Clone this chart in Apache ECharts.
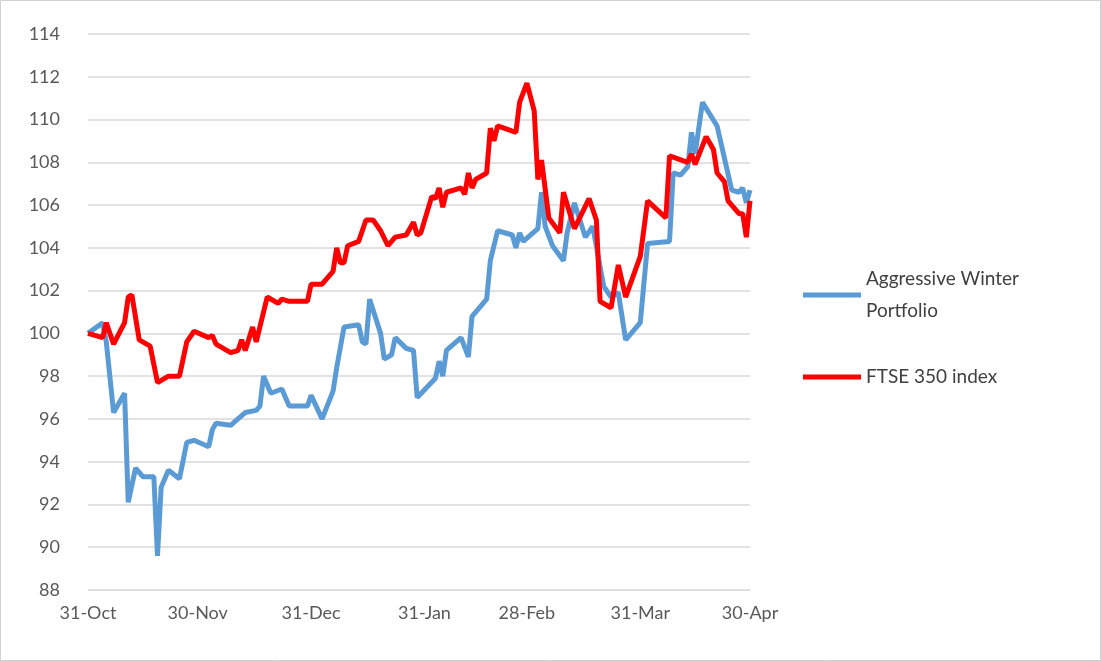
<!DOCTYPE html>
<html><head><meta charset="utf-8">
<script src="https://cdn.jsdelivr.net/npm/echarts@6/dist/echarts.min.js"></script>
<style>html,body{margin:0;padding:0;background:#fff}#c{width:1101px;height:661px}</style>
</head><body><div id="c"></div>
<script>
const tickLabels = {0:'31-Oct',30:'30-Nov',61:'31-Dec',92:'31-Jan',120:'28-Feb',151:'31-Mar',181:'30-Apr'};
const portDays = [0,4,5,7,10,11,13,15,18,19,20,22,25,27,29,33,34,35,39,41,43,46,47,48,50,53,55,60,61,64,67,68,70,74,75,76,77,80,81,83,84,87,89,90,95,96,97,98,102,104,105,109,110,112,116,117,118,119,123,124,125,127,130,131,133,136,138,141,143,145,147,151,153,159,160,162,164,165,166,168,172,176,178,179,180,181];
const portVals = [100.0,100.5,99.6,96.3,97.2,92.1,93.7,93.3,93.3,89.6,92.8,93.6,93.2,94.9,95.0,94.7,95.5,95.8,95.7,96.0,96.3,96.4,96.6,98.0,97.2,97.4,96.6,96.6,97.1,96.0,97.3,98.4,100.3,100.4,99.6,99.5,101.6,100.0,98.8,99.0,99.8,99.3,99.2,97.0,97.9,98.7,98.0,99.2,99.8,98.9,100.8,101.6,103.4,104.8,104.6,104.0,104.7,104.3,104.9,106.6,105.0,104.1,103.4,104.7,106.1,104.5,105.0,102.2,101.7,101.9,99.7,100.5,104.2,104.3,107.5,107.4,107.8,109.4,108.4,110.8,109.7,106.7,106.6,106.8,106.1,106.7];
const ftseDays = [0,4,5,7,10,11,12,14,17,19,22,25,27,29,33,34,35,39,41,42,43,45,46,49,52,53,55,60,61,63,64,67,68,69,70,71,74,76,78,80,82,84,87,89,90,91,94,95,96,97,98,102,103,104,105,106,109,110,111,112,117,118,120,122,123,124,126,129,130,133,137,139,140,143,145,147,151,153,158,159,164,165,166,169,171,172,174,175,178,179,180,181];
const ftseVals = [100.0,99.8,100.5,99.5,100.5,101.7,101.8,99.7,99.4,97.7,98.0,98.0,99.6,100.1,99.8,99.9,99.5,99.1,99.2,99.7,99.2,100.3,99.6,101.7,101.4,101.6,101.5,101.5,102.3,102.3,102.3,102.9,104.0,103.3,103.3,104.1,104.3,105.3,105.3,104.8,104.1,104.5,104.6,105.2,104.6,104.7,106.4,106.3,106.8,105.9,106.6,106.8,106.5,107.5,106.8,107.2,107.5,109.6,109.0,109.7,109.4,110.8,111.7,110.4,107.2,108.1,105.4,104.7,106.6,104.9,106.3,105.3,101.5,101.2,103.2,101.7,103.6,106.2,105.4,108.3,108.0,108.4,107.9,109.2,108.6,107.5,107.1,106.2,105.6,105.6,104.5,106.2];
const cats = Array.from({length:182},(_,i)=>i);
const pair = (d,v)=>d.map((x,i)=>[x,v[i]]);
const font = "Lato, 'Open Sans', sans-serif";
const chart = echarts.init(document.getElementById('c'));
chart.setOption({
  animation:false,
  grid:{left:88,right:351,top:34,bottom:71},
  graphic:[{type:'rect',shape:{x:0.5,y:0.5,width:1100,height:660},style:{fill:'none',stroke:'#d0d0d0',lineWidth:1}}],
  legend:{orient:'vertical',left:798,top:258,itemWidth:58,itemHeight:5,itemGap:34,icon:'rect',
    textStyle:{fontFamily:font,fontSize:19,color:'#404040',lineHeight:32},
    data:['Aggressive Winter Portfolio','FTSE 350 index'],
    formatter:n=>n==='Aggressive Winter Portfolio'?'Aggressive Winter\nPortfolio':n},
  xAxis:{type:'category',data:cats,boundaryGap:false,
    axisLine:{lineStyle:{color:'#d9d9d9'}},axisTick:{show:false},
    axisLabel:{interval:(i)=>tickLabels[i]!==undefined,formatter:(v)=>tickLabels[v]||'',fontFamily:font,fontSize:18,color:'#595959',margin:14},
    splitLine:{show:false}},
  yAxis:{type:'value',min:88,max:114,interval:2,
    axisLine:{show:false},axisTick:{show:false},
    axisLabel:{fontFamily:font,fontSize:18,color:'#595959',margin:28},
    splitLine:{lineStyle:{color:'#d9d9d9',width:1.5}}},
  series:[
    {name:'Aggressive Winter Portfolio',type:'line',data:pair(portDays,portVals),showSymbol:false,symbol:'none',
      lineStyle:{color:'#5b9bd5',width:5},itemStyle:{color:'#5b9bd5'}},
    {name:'FTSE 350 index',type:'line',data:pair(ftseDays,ftseVals),showSymbol:false,symbol:'none',
      lineStyle:{color:'#ff0000',width:5},itemStyle:{color:'#ff0000'}}
  ]
});
</script></body></html>
